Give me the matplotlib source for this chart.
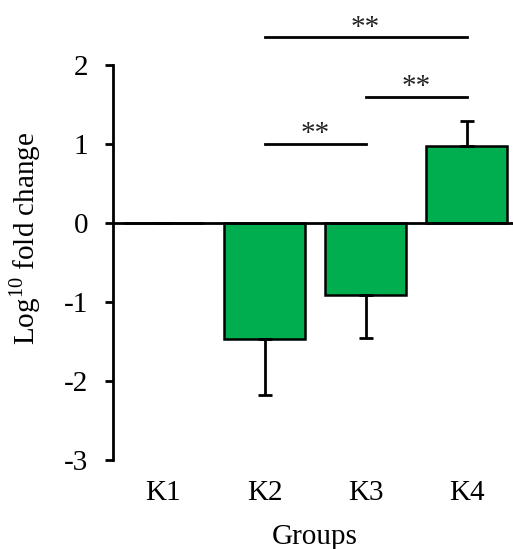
import numpy as np
import matplotlib
matplotlib.use('Agg')
from matplotlib import pyplot as plt

groups = ['K1', 'K2', 'K3', 'K4']
values = [0.0, -1.47, -0.91, 0.97]
err_low = [0.0, 0.71, 0.55, 0.0]
err_high = [0.0, 0.0, 0.0, 0.32]

# significance brackets: (from group, to group, height)
sig_pairs = [(1, 2, 1.0), (2, 3, 1.6), (1, 3, 2.35)]
sig_labels = ['**', '**', '**']

plt.rcParams['font.family'] = ['Liberation Serif', 'DejaVu Serif']
plt.rcParams['mathtext.fontset'] = 'custom'
plt.rcParams['mathtext.rm'] = 'Liberation Serif'

fig = plt.figure(figsize=(5.13, 5.49), dpi=100)
ax = fig.add_axes([113 / 513, 89 / 549, 404 / 513, 395 / 549])

x = np.arange(len(groups))
ax.bar(x, values, width=0.8, color='#00AD4F', edgecolor='black', linewidth=1.8, zorder=2)
ax.errorbar(x, values, yerr=[err_low, err_high], fmt='none', ecolor='black',
            elinewidth=2, capsize=5, capthick=2, zorder=3)

for (a, b, h), lab in zip(sig_pairs, sig_labels):
    ax.plot([a, b], [h, h], color='black', linewidth=2, clip_on=False)
    ax.text((a + b) / 2, h + 0.035, lab, ha='center', va='baseline', fontsize=21,
            color='#222222', clip_on=False)

ax.set_xlim(-0.5, 3.5)
ax.set_ylim(-3, 2)
ax.set_yticks([-3, -2, -1, 0, 1, 2])
ax.set_yticklabels(['-3', '-2', '-1', '0', '1', '2'])
ax.set_xticks([])

ax.spines['top'].set_visible(False)
ax.spines['right'].set_visible(False)
ax.spines['bottom'].set_position(('data', 0))
ax.spines['bottom'].set_linewidth(2)
ax.spines['left'].set_linewidth(2)
ax.tick_params(axis='y', direction='out', length=6, width=2, labelsize=21, pad=12)

# group labels sit below the plot area, not on the zero line
for xi, g in zip(x, groups):
    ax.text(xi, -3.42, g, ha='center', va='center', fontsize=21)

ax.text(1.5, -3.98, 'Groups', ha='center', va='center', fontsize=21)
fig.text(25 / 513, 1 - 238 / 549, r'Log$^{\mathregular{10}}$ fold change', fontsize=21,
         rotation=90, ha='center', va='center')

plt.savefig('out.png', dpi=100)
